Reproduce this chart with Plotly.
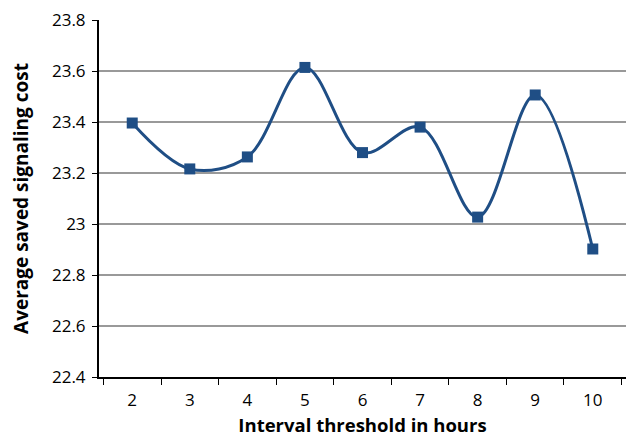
import plotly.graph_objects as go

hours = ["2", "3", "4", "5", "6", "7", "8", "9", "10"]
saved_cost = [23.396, 23.216, 23.263, 23.614, 23.280, 23.380, 23.027, 23.506, 22.902]
y_ticks = [22.4, 22.6, 22.8, 23.0, 23.2, 23.4, 23.6, 23.8]
y_tick_labels = ["22.4", "22.6", "22.8", "23", "23.2", "23.4", "23.6", "23.8"]

color = "#1F4E85"
font_family = "Open Sans"

fig = go.Figure(
    go.Scatter(
        x=hours,
        y=saved_cost,
        mode="lines+markers",
        line=dict(color=color, width=3, shape="spline", smoothing=1),
        marker=dict(symbol="square", size=11, color=color),
    )
)

fig.update_layout(
    width=626,
    height=437,
    margin=dict(l=99, r=0, t=20, b=60),
    paper_bgcolor="white",
    plot_bgcolor="white",
    showlegend=False,
    font=dict(family=font_family, size=17, color="black"),
)

fig.update_xaxes(
    type="category",
    tickson="boundaries",
    ticks="outside",
    ticklen=6,
    tickcolor="black",
    showline=True,
    linecolor="black",
    linewidth=2,
    showgrid=False,
    ticklabelstandoff=7,
    title=dict(text="<b>Interval threshold in hours</b>", font=dict(size=18.5), standoff=14),
    tickfont=dict(size=17),
)

fig.update_yaxes(
    range=[22.4, 23.8],
    tickvals=y_ticks,
    ticktext=y_tick_labels,
    ticks="outside",
    ticklen=5,
    tickcolor="black",
    showline=True,
    linecolor="black",
    linewidth=2,
    showgrid=True,
    gridcolor="#999999",
    gridwidth=1.5,
    zeroline=False,
    ticklabelstandoff=3,
    title=dict(text="<b>Average saved signaling cost</b>", font=dict(size=19), standoff=18),
    tickfont=dict(size=17),
)

fig.write_html("out.html")
